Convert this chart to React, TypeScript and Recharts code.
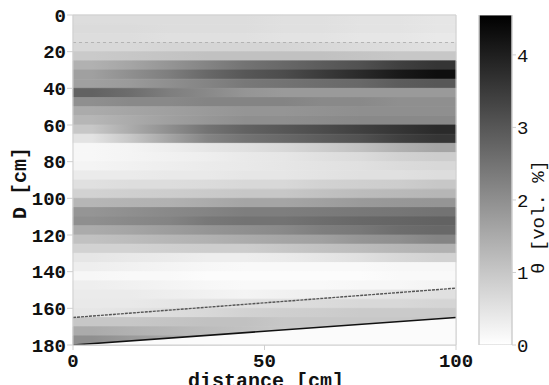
import {
  Area,
  Bar,
  BarChart,
  ComposedChart,
  Line,
  ReferenceArea,
  ReferenceLine,
  XAxis,
  YAxis,
} from 'recharts';

// distance band centres (cm), one value per THETA column
const DISTANCE_CENTRES = [5, 15, 25, 35, 45, 55, 65, 75, 85, 95];
const DEPTH_EDGES = [
  0, 5, 10, 15, 20, 25, 30, 35, 40, 45, 50, 55, 60, 65, 70, 75, 80, 85, 90,
  95, 100, 105, 110, 115, 120, 125, 130, 135, 140, 145, 150, 155, 160, 165,
  170, 175, 180,
];

// water content θ [vol. %], one row per depth band, one value per distance band
const THETA = [
  [0.6, 0.6, 0.6, 0.6, 0.6, 0.55, 0.55, 0.5, 0.5, 0.45],
  [0.65, 0.65, 0.6, 0.6, 0.6, 0.55, 0.55, 0.5, 0.5, 0.45],
  [0.6, 0.6, 0.55, 0.55, 0.55, 0.5, 0.5, 0.45, 0.45, 0.4],
  [0.7, 0.7, 0.75, 0.75, 0.75, 0.75, 0.7, 0.65, 0.6, 0.55],
  [0.95, 1.0, 1.05, 1.1, 1.1, 1.1, 1.1, 1.05, 1.0, 1.0],
  [1.4, 1.6, 1.9, 2.2, 2.5, 2.7, 2.9, 3.1, 3.4, 3.6],
  [1.7, 2.0, 2.3, 2.7, 3.0, 3.2, 3.5, 3.8, 4.1, 4.3],
  [1.7, 1.8, 2.0, 2.2, 2.4, 2.5, 2.6, 2.7, 2.9, 3.0],
  [2.8, 2.6, 2.3, 2.1, 1.9, 1.8, 1.8, 1.8, 1.8, 1.8],
  [2.0, 2.1, 2.1, 2.2, 2.2, 2.2, 2.1, 2.1, 2.0, 2.0],
  [1.5, 1.6, 1.7, 1.8, 1.9, 1.9, 1.95, 2.0, 2.0, 2.0],
  [1.3, 1.5, 1.7, 1.85, 2.0, 2.0, 2.05, 2.1, 2.1, 2.1],
  [1.0, 1.5, 2.0, 2.5, 2.8, 3.0, 3.2, 3.4, 3.6, 3.8],
  [0.5, 1.0, 1.6, 2.2, 2.5, 2.7, 2.9, 3.1, 3.4, 3.6],
  [0.15, 0.2, 0.3, 0.45, 0.55, 0.7, 0.9, 1.1, 1.4, 1.6],
  [0.15, 0.2, 0.25, 0.3, 0.4, 0.45, 0.55, 0.65, 0.8, 0.9],
  [0.2, 0.25, 0.3, 0.35, 0.4, 0.45, 0.5, 0.55, 0.65, 0.7],
  [0.35, 0.35, 0.4, 0.4, 0.45, 0.45, 0.5, 0.55, 0.55, 0.6],
  [0.55, 0.6, 0.6, 0.65, 0.7, 0.7, 0.8, 0.85, 0.9, 1.0],
  [0.8, 0.85, 0.9, 0.95, 1.0, 1.0, 1.1, 1.2, 1.25, 1.3],
  [1.3, 1.35, 1.4, 1.5, 1.6, 1.6, 1.7, 1.8, 1.85, 1.9],
  [1.9, 2.0, 2.1, 2.2, 2.3, 2.3, 2.35, 2.4, 2.45, 2.5],
  [2.0, 2.1, 2.2, 2.4, 2.5, 2.5, 2.6, 2.7, 2.75, 2.8],
  [1.5, 1.6, 1.75, 1.9, 2.0, 2.1, 2.3, 2.4, 2.6, 2.7],
  [1.1, 1.2, 1.3, 1.4, 1.5, 1.6, 1.7, 1.9, 2.0, 2.2],
  [0.8, 0.8, 0.85, 0.9, 0.9, 1.0, 1.1, 1.2, 1.3, 1.4],
  [0.45, 0.4, 0.35, 0.3, 0.3, 0.35, 0.45, 0.55, 0.7, 0.8],
  [0.3, 0.25, 0.2, 0.15, 0.1, 0.1, 0.1, 0.1, 0.15, 0.15],
  [0.15, 0.1, 0.1, 0.05, 0.05, 0.05, 0.05, 0.05, 0.1, 0.1],
  [0.3, 0.25, 0.2, 0.15, 0.1, 0.1, 0.1, 0.15, 0.15, 0.2],
  [0.35, 0.35, 0.3, 0.25, 0.2, 0.25, 0.3, 0.4, 0.5, 0.55],
  [0.4, 0.4, 0.45, 0.5, 0.55, 0.6, 0.65, 0.7, 0.7, 0.75],
  [0.45, 0.5, 0.6, 0.7, 0.8, 0.85, 0.9, 0.95, 0.95, 0.95],
  [1.0, 1.0, 1.05, 1.1, 1.1, 1.0, 1.0, 1.0, 1.0, 1.0],
  [1.5, 1.4, 1.3, 1.2, 1.1, 1.0, 1.0, 1.0, 1.0, 1.0],
  [2.0, 1.8, 1.6, 1.4, 1.2, 1.0, 1.0, 1.0, 1.0, 1.0],
];

// boundary lines
const LINE_X = [0, 100];
const FRONT_DEPTH = [165, 149];
const BASE_DEPTH = [180, 165];
const TOP_MARK = 15;

const THETA_MAX = 4.55;
const DEPTH_TICKS = [0, 20, 40, 60, 80, 100, 120, 140, 160, 180];
const DIST_TICKS = [0, 50, 100];
const THETA_TICKS = [0, 1, 2, 3, 4];

const lineData = LINE_X.map((x, i) => ({
  x,
  front: FRONT_DEPTH[i],
  base: BASE_DEPTH[i],
  below: [BASE_DEPTH[i], 180],
}));

const FRAME = '#cfcfcf';
const MONO = '"Liberation Mono", "DejaVu Sans Mono", monospace';

function gray(v: number) {
  const g = Math.round(255 * (1 - Math.min(v, THETA_MAX) / THETA_MAX));
  return `rgb(${g},${g},${g})`;
}

export default function App() {
  const tickBold = { fill: '#111', fontSize: 19, fontFamily: MONO, fontWeight: 700 };

  return (
    <div style={{ position: 'absolute', left: 0, top: 0, width: 549, height: 385, background: '#fff', overflow: 'hidden' }}>
      <div style={{ position: 'absolute', left: 0, top: 0 }}>
        <ComposedChart width={480} height={385} data={lineData} margin={{ top: 14, right: 23, bottom: 0, left: 13 }}>
          <defs>
            {THETA.map((row, r) => (
              <linearGradient key={r} id={`row-${r}`} x1="0" y1="0" x2="1" y2="0">
                {row.map((v, c) => (
                  <stop key={c} offset={`${DISTANCE_CENTRES[c]}%`} stopColor={gray(v)} />
                ))}
              </linearGradient>
            ))}
          </defs>
          <XAxis
            dataKey="x"
            type="number"
            domain={[0, 100]}
            ticks={DIST_TICKS}
            height={40}
            stroke={FRAME}
            tick={tickBold}
            tickSize={5}
            tickMargin={4}
            allowDataOverflow
          />
          <XAxis xAxisId="top" orientation="top" type="number" domain={[0, 100]} ticks={DIST_TICKS} height={1} stroke={FRAME} tick={false} tickSize={4} />
          <YAxis
            type="number"
            domain={[0, 180]}
            reversed
            ticks={DEPTH_TICKS}
            width={60}
            stroke={FRAME}
            tick={tickBold}
            tickSize={6}
            tickMargin={1}
            allowDataOverflow
          />
          <YAxis yAxisId="right" orientation="right" type="number" domain={[0, 180]} reversed ticks={DEPTH_TICKS} width={1} stroke={FRAME} tick={false} tickSize={4} />
          {THETA.map((_, r) => (
            <ReferenceArea
              key={r}
              x1={0}
              x2={100}
              y1={DEPTH_EDGES[r]}
              y2={DEPTH_EDGES[r + 1]}
              fill={`url(#row-${r})`}
              fillOpacity={1}
              stroke={`url(#row-${r})`}
              strokeWidth={0.8}
              ifOverflow="visible"
            />
          ))}
          <Area dataKey="below" type="linear" fill="#fbfbfb" fillOpacity={1} stroke="none" isAnimationActive={false} />
          <ReferenceLine y={TOP_MARK} stroke="#aaa" strokeDasharray="3 3" strokeWidth={0.8} />
          <Line dataKey="front" type="linear" stroke="#555" strokeWidth={1.4} strokeDasharray="3 1" dot={false} isAnimationActive={false} />
          <Line dataKey="base" type="linear" stroke="#111" strokeWidth={1.6} dot={false} isAnimationActive={false} />
        </ComposedChart>
      </div>

      <div style={{ position: 'absolute', left: 460, top: 0 }}>
        <BarChart width={89} height={385} data={[{ k: 'theta', v: THETA_MAX }]} margin={{ top: 15, right: 7, bottom: 40, left: 18 }} barCategoryGap={0} barGap={0}>
          <defs>
            <linearGradient id="cbar" x1="0" y1="0" x2="0" y2="1">
              <stop offset="0%" stopColor="#000" />
              <stop offset="100%" stopColor="#fff" />
            </linearGradient>
          </defs>
          <XAxis dataKey="k" hide />
          <YAxis yAxisId="l" orientation="left" type="number" domain={[0, THETA_MAX]} ticks={THETA_TICKS} width={1} stroke={FRAME} tick={false} tickSize={4} />
          <YAxis
            orientation="right"
            type="number"
            domain={[0, THETA_MAX]}
            ticks={THETA_TICKS}
            width={30}
            stroke={FRAME}
            tick={{ fill: '#111', fontSize: 19, fontFamily: MONO }}
            tickSize={4}
            tickMargin={1}
            allowDataOverflow
          />
          <Bar dataKey="v" fill="url(#cbar)" stroke={FRAME} isAnimationActive={false} />
        </BarChart>
      </div>

      <svg width={549} height={385} style={{ position: 'absolute', left: 0, top: 0, pointerEvents: 'none' }}>
        <text x={26} y={183} transform="rotate(-90 26 183)" textAnchor="middle" fontFamily={MONO} fontWeight={700} fontSize={20} fill="#111">
          D [cm]
        </text>
        <text x={266} y={387} textAnchor="middle" fontFamily={MONO} fontWeight={700} fontSize={20} fill="#111">
          distance [cm]
        </text>
        <text x={544} y={217} transform="rotate(-90 544 217)" textAnchor="middle" fontFamily={MONO} fontSize={19} fill="#111">
          θ [vol. %]
        </text>
      </svg>
    </div>
  );
}
